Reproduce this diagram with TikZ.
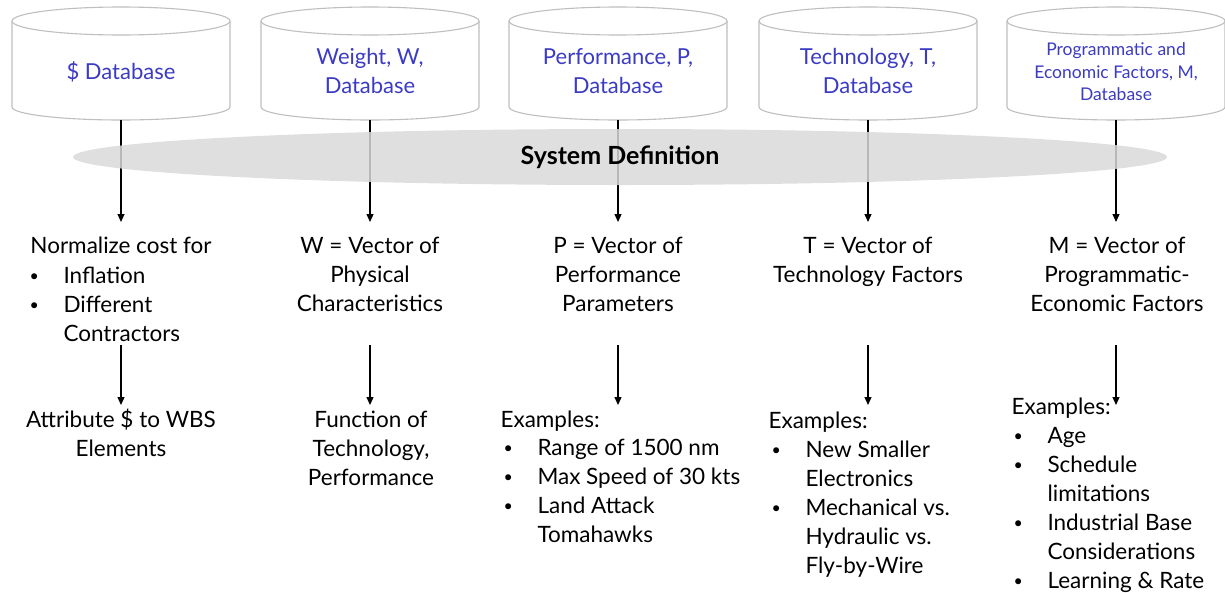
\documentclass[tikz,border=0pt]{standalone}
\usepackage{fontspec}
\setmainfont{Lato}
\usetikzlibrary{arrows.meta}
\definecolor{dbblue}{RGB}{59,59,196}
\definecolor{dbgray}{RGB}{191,191,191}
\definecolor{sysgray}{RGB}{217,217,217}
\newcommand\bitem{\makebox[34pt][l]{\raisebox{1.5pt}{\fontsize{16}{16}\selectfont •}}}
\newcommand\bcont{\hspace*{34pt}}
\begin{document}
\begin{tikzpicture}[x=1pt,y=1pt,
    dbline/.style={draw=dbgray,line width=1.1pt,fill=white},
    dbtext/.style={text=dbblue,align=center,font=\fontsize{22}{29}\selectfont},
    body/.style={align=center,anchor=base,font=\fontsize{22.5}{29}\selectfont},
    blist/.style={align=left,anchor=base west,font=\fontsize{22.5}{29}\selectfont},
    arr/.style={line width=1.2pt,-{Triangle[length=8pt,width=7pt]}}]
  \useasboundingbox (0,0) rectangle (1225,-592);
  % databases
  \foreach \i/\x in {1/121,2/370,3/618,4/868,5/1116} {
    \draw[dbline] (\x-109,-21) -- (\x-109,-107)
      arc[start angle=180,end angle=360,x radius=109,y radius=13] -- (\x+109,-21);
    \draw[dbline] (\x,-21) ellipse[x radius=109,y radius=14];
    \coordinate (top\i) at (\x,-120);
    \coordinate (tip\i) at (\x,-222);
    \coordinate (mid\i) at (\x,-345);
    \coordinate (end\i) at (\x,-405);
    \draw[arr] (top\i) -- (tip\i);
    \draw[arr] (mid\i) -- (end\i);
  }
  \node[dbtext] (db1) at (121,-72) {\$ Database};
  \node[dbtext] (db2) at (370,-71) {Weight, W,\\Database};
  \node[dbtext] (db3) at (618,-71) {Performance, P,\\Database};
  \node[dbtext] (db4) at (868,-71) {Technology, T,\\Database};
  \node[dbtext,font=\fontsize{17.5}{22.5}\selectfont] (db5) at (1116,-72)
    {Programmatic and\\Economic Factors, M,\\Database};
  % system definition
  \fill[sysgray,fill opacity=0.85] (620,-157) ellipse[x radius=547,y radius=28];
  \node[font=\fontsize{25}{29}\selectfont\bfseries] (sys) at (620,-157) {System Definition};
  % vectors (base = last line)
  \node[body] (norm1) at (121,-253) {Normalize cost for};
  \node[blist] (list1) at (26,-341) {\bitem Inflation\\\bitem Different\\\bcont Contractors};
  \node[body] (vec2) at (370,-311) {W = Vector of\\Physical\\Characteristics};
  \node[body] (vec3) at (618,-311) {P = Vector of\\Performance\\Parameters};
  \node[body] (vec4) at (868,-282) {T = Vector of\\Technology Factors};
  \node[body] (vec5) at (1117,-311) {M = Vector of\\Programmatic-\\Economic Factors};
  % results
  \node[body] (attr1) at (121,-456) {Attribute \$ to WBS\\Elements};
  \node[body] (fun2) at (371,-485) {Function of\\Technology,\\Performance};
  \node[blist] (ex3) at (497,-427) {Examples:};
  \node[blist] (list3) at (500,-542) {\bitem Range of 1500 nm\\\bitem Max Speed of 30 kts\\\bitem Land Attack\\\bcont Tomahawks};
  \node[blist] (ex4) at (765,-428) {Examples:};
  \node[blist] (list4) at (768,-573) {\bitem New Smaller\\\bcont Electronics\\\bitem Mechanical vs.\\\bcont Hydraulic vs.\\\bcont Fly-by-Wire};
  \node[blist] (ex5) at (1008,-414) {Examples:};
  \node[blist] (list5) at (1010,-588) {\bitem Age\\\bitem Schedule\\\bcont limitations\\\bitem Industrial Base\\\bcont Considerations\\\bitem Learning \& Rate};
\end{tikzpicture}
\end{document}
